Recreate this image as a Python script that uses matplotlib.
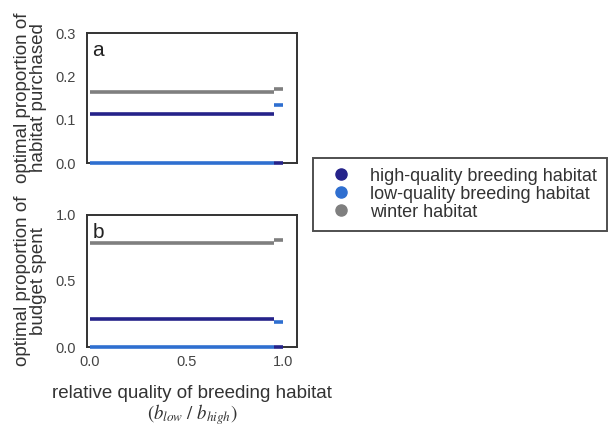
import matplotlib
matplotlib.use('Agg')
from matplotlib import pyplot as plt
from matplotlib.lines import Line2D

# relative quality of breeding habitat: two regimes, split near 0.95
seg_starts = [0.0, 0.95]
seg_ends = [0.95, 1.0]

# panel a: optimal proportion of habitat purchased
purchased_high = [0.113, 0.0]
purchased_low = [0.0, 0.133]
purchased_winter = [0.165, 0.170]

# panel b: optimal proportion of budget spent
budget_high = [0.21, 0.0]
budget_low = [0.0, 0.19]
budget_winter = [0.79, 0.81]

labels = ['high-quality breeding habitat', 'low-quality breeding habitat', 'winter habitat']
colors = ['#25238a', '#2f6fd0', '#7f7f7f']

plt.rcParams['font.family'] = ['Liberation Sans', 'DejaVu Sans']
plt.rcParams['mathtext.fontset'] = 'stix'

fig = plt.figure(figsize=(6.14, 4.29), dpi=100)
ax_a = fig.add_axes([0.1417, 0.620, 0.342, 0.303])
ax_b = fig.add_axes([0.1417, 0.191, 0.342, 0.308])

panels = [
    (ax_a, [purchased_high, purchased_low, purchased_winter], (0, 0.3), [0.0, 0.1, 0.2, 0.3], 'a',
     'optimal proportion of\nhabitat purchased'),
    (ax_b, [budget_high, budget_low, budget_winter], (0, 1.0), [0.0, 0.5, 1.0], 'b',
     'optimal proportion of\nbudget spent'),
]

for ax, series, ylim, yticks, tag, ylabel in panels:
    # draw low first so high sits on top at zero at the end
    order = [1, 0, 2]
    for i in order:
        ax.hlines(series[i], seg_starts, seg_ends, colors=colors[i], linewidth=2.6,
                  clip_on=False, zorder=3)
    ax.set_xlim(-0.015, 1.07)
    ax.set_ylim(*ylim)
    ax.set_yticks(yticks)
    ax.set_yticklabels([f'{t:.1f}' for t in yticks])
    ax.tick_params(length=0, labelsize=10.5, labelcolor='#444444', pad=8)
    for sp in ax.spines.values():
        sp.set_color('#333333')
        sp.set_linewidth(1.4)
    ax.text(0.025, 0.94, tag, transform=ax.transAxes, fontsize=15, color='#222222',
            va='top', ha='left')
    ax.set_ylabel(ylabel, fontsize=13.5, color='#333333', labelpad=6, linespacing=0.95)

ax_a.set_xticks([])
ax_b.set_xticks([0.0, 0.5, 1.0])
ax_b.set_xticklabels(['0.0', '0.5', '1.0'])
ax_b.tick_params(axis='x', pad=6)
ax_b.set_xlabel('relative quality of breeding habitat\n' + r'$(b_{low}\ /\ b_{high})$',
                fontsize=13.5, color='#333333', labelpad=11, linespacing=1.0)

handles = [Line2D([], [], linestyle='none', marker='o', markersize=8,
                  markerfacecolor=c, markeredgecolor=c) for c in colors]
leg = fig.legend(handles, labels, loc='upper left', bbox_to_anchor=(0.51, 0.632),
                 frameon=True, fancybox=False, fontsize=13, labelspacing=0.05,
                 handletextpad=0.6, borderpad=0.55, handlelength=2.0, borderaxespad=0)
leg.get_frame().set_edgecolor('#222222')
leg.get_frame().set_linewidth(1.4)
for t in leg.get_texts():
    t.set_color('#333333')

fig.savefig('out.png', dpi=100)
